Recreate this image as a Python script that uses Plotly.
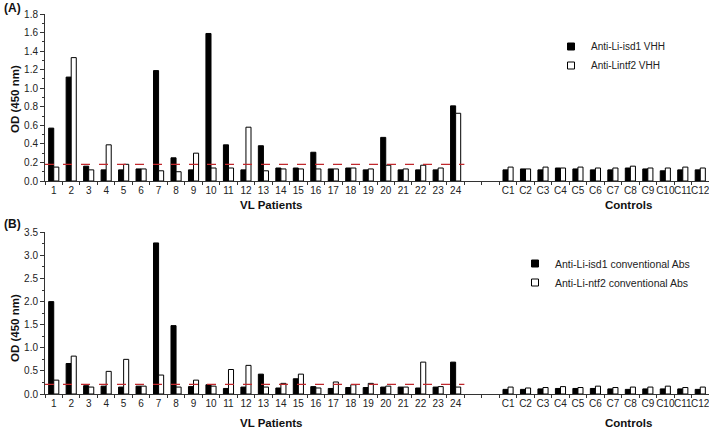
import plotly.graph_objects as go

# ---------------- data ----------------
patients = [str(i) for i in range(1, 25)]
gap_cats = [" ", "  "]
controls = ["C%d" % i for i in range(1, 13)]
categories = patients + gap_cats + controls

# Panel A (VHH)
vhh_isd1_pat = [0.57, 1.12, 0.16, 0.12, 0.12, 0.13, 1.19, 0.25, 0.12, 1.59, 0.39, 0.12,
                0.38, 0.14, 0.14, 0.31, 0.13, 0.14, 0.12, 0.47, 0.12, 0.12, 0.12, 0.81]
vhh_ntf2_pat = [0.15, 1.33, 0.12, 0.39, 0.18, 0.13, 0.11, 0.10, 0.30, 0.14, 0.14, 0.58,
                0.11, 0.13, 0.13, 0.13, 0.13, 0.14, 0.13, 0.17, 0.13, 0.17, 0.14, 0.73]
vhh_isd1_ctl = [0.12, 0.13, 0.12, 0.14, 0.13, 0.12, 0.12, 0.14, 0.13, 0.11, 0.12, 0.12]
vhh_ntf2_ctl = [0.15, 0.13, 0.15, 0.14, 0.15, 0.14, 0.14, 0.16, 0.14, 0.14, 0.15, 0.14]
cutoff_a = 0.18

# Panel B (conventional Abs)
abs_isd1_pat = [2.00, 0.66, 0.18, 0.17, 0.15, 0.17, 3.27, 1.48, 0.16, 0.20, 0.12, 0.15,
                0.43, 0.13, 0.33, 0.16, 0.12, 0.14, 0.14, 0.15, 0.15, 0.13, 0.15, 0.69]
abs_ntf2_pat = [0.30, 0.82, 0.15, 0.49, 0.75, 0.17, 0.41, 0.15, 0.30, 0.17, 0.53, 0.62,
                0.15, 0.23, 0.43, 0.13, 0.26, 0.20, 0.23, 0.17, 0.15, 0.69, 0.16, 0.15]
abs_isd1_ctl = [0.10, 0.10, 0.11, 0.12, 0.12, 0.12, 0.11, 0.10, 0.11, 0.11, 0.11, 0.10]
abs_ntf2_ctl = [0.15, 0.13, 0.14, 0.16, 0.14, 0.17, 0.14, 0.15, 0.15, 0.17, 0.14, 0.15]
cutoff_b = 0.21

name_a1 = "Anti-Li-isd1 VHH"
name_a2 = "Anti-Lintf2 VHH"
name_b1 = "Anti-Li-isd1 conventional Abs"
name_b2 = "Anti-Li-ntf2 conventional Abs"

yticks_a = [0.0, 0.2, 0.4, 0.6, 0.8, 1.0, 1.2, 1.4, 1.6, 1.8]
yticks_b = [0.0, 0.5, 1.0, 1.5, 2.0, 2.5, 3.0, 3.5]

# ---------------- figure ----------------
W, H = 709, 432
ML, MR, MT, MB = 45, 0, 14, 38
PW, PH = W - ML - MR, H - MT - MB


def px_x(px):
    return (px - ML) / PW


def px_y(py):
    return (H - MB - py) / PH


def full(pat, ctl):
    return pat + [None, None] + ctl


fig = go.Figure()
AXC = "#333333"
BLACK = "#000000"

fig.add_trace(go.Bar(x=categories, y=full(vhh_isd1_pat, vhh_isd1_ctl), name=name_a1,
                     marker=dict(color=BLACK, line=dict(color=BLACK, width=1)),
                     xaxis="x", yaxis="y", showlegend=False))
fig.add_trace(go.Bar(x=categories, y=full(vhh_ntf2_pat, vhh_ntf2_ctl), name=name_a2,
                     marker=dict(color="white", line=dict(color=BLACK, width=1)),
                     xaxis="x", yaxis="y", showlegend=False))
fig.add_trace(go.Bar(x=categories, y=full(abs_isd1_pat, abs_isd1_ctl), name=name_b1,
                     marker=dict(color=BLACK, line=dict(color=BLACK, width=1)),
                     xaxis="x2", yaxis="y2", showlegend=False))
fig.add_trace(go.Bar(x=categories, y=full(abs_ntf2_pat, abs_ntf2_ctl), name=name_b2,
                     marker=dict(color="white", line=dict(color=BLACK, width=1)),
                     xaxis="x2", yaxis="y2", showlegend=False))

# legend entries (small square symbols)
for nm, fc, xa, ya, lg in [(name_a1, BLACK, "x", "y", "legend"),
                           (name_a2, "white", "x", "y", "legend"),
                           (name_b1, BLACK, "x2", "y2", "legend2"),
                           (name_b2, "white", "x2", "y2", "legend2")]:
    fig.add_trace(go.Scatter(x=[None], y=[None], mode="markers", name=nm,
                             marker=dict(symbol="square", size=7, color=fc,
                                         line=dict(color=BLACK, width=1)),
                             xaxis=xa, yaxis=ya, legend=lg, showlegend=True))

# cut-off lines
for ref_x, ref_y, val in [("x", "y", cutoff_a), ("x2", "y2", cutoff_b)]:
    fig.add_shape(type="line", xref=ref_x, yref=ref_y, x0=-0.5, x1=len(patients) - 0.5,
                  y0=val, y1=val, line=dict(color="#c0282d", width=1.3, dash="dash"))

xaxis_common = dict(type="category", categoryorder="array", categoryarray=categories,
                    showline=True, linecolor=AXC, linewidth=1, ticks="outside",
                    ticklen=3, tickcolor=AXC, tickson="boundaries",
                    tickfont=dict(family="Liberation Sans, Arial", size=10, color="#222"),
                    showgrid=False, zeroline=False, range=[-0.5, len(categories) - 0.5],
                    tickangle=0, fixedrange=True)
yaxis_common = dict(showline=True, linecolor=AXC, linewidth=1, ticks="outside",
                    ticklen=4, tickcolor=AXC, showgrid=False, zeroline=False,
                    tickformat=".1f",
                    tickfont=dict(family="Liberation Sans, Arial", size=10, color="#222"))

fig.update_layout(
    width=W, height=H,
    margin=dict(l=ML, r=MR, t=MT, b=MB),
    paper_bgcolor="white", plot_bgcolor="white",
    barmode="group", bargap=0.42, bargroupgap=0,
    font=dict(family="Liberation Sans, Arial", color="#222"),
    xaxis=dict(xaxis_common, anchor="y"),
    xaxis2=dict(xaxis_common, anchor="y2"),
    yaxis=dict(yaxis_common, domain=[px_y(181), 1.0], range=[0, 1.8], tickvals=yticks_a,
               anchor="x", minor=dict(dtick=0.1, ticks="outside", ticklen=2, tickcolor=AXC)),
    yaxis2=dict(yaxis_common, domain=[0, px_y(232.3)], range=[0, 3.5], tickvals=yticks_b,
                anchor="x2", minor=dict(dtick=0.25, ticks="outside", ticklen=2, tickcolor=AXC)),
    legend=dict(x=px_x(551), y=px_y(32), xanchor="left", yanchor="top",
                bgcolor="rgba(0,0,0,0)", borderwidth=0, tracegroupgap=0,
                font=dict(family="Liberation Sans, Arial", size=10, color="#222")),
    legend2=dict(x=px_x(515), y=px_y(249), xanchor="left", yanchor="top",
                 bgcolor="rgba(0,0,0,0)", borderwidth=0, tracegroupgap=0,
                 font=dict(family="Liberation Sans, Arial", size=10.5, color="#222")),
)

bold = dict(family="Liberation Sans, Arial", color="#111")
ann = [
    dict(text="<b>(A)</b>", x=px_x(2), y=px_y(8), xanchor="left", yanchor="middle",
         font=dict(bold, size=12)),
    dict(text="<b>(B)</b>", x=px_x(2), y=px_y(224), xanchor="left", yanchor="middle",
         font=dict(bold, size=12)),
    dict(text="<b>OD (450 nm)</b>", x=px_x(15), y=px_y(99), textangle=-90,
         xanchor="center", yanchor="middle", font=dict(bold, size=11.5)),
    dict(text="<b>OD (450 nm)</b>", x=px_x(15), y=px_y(328), textangle=-90,
         xanchor="center", yanchor="middle", font=dict(bold, size=11.5)),
    dict(text="<b>VL Patients</b>", x=px_x(271), y=px_y(205), xanchor="center",
         yanchor="middle", font=dict(bold, size=11.5)),
    dict(text="<b>Controls</b>", x=px_x(628), y=px_y(205), xanchor="center",
         yanchor="middle", font=dict(bold, size=11.5)),
    dict(text="<b>VL Patients</b>", x=px_x(271), y=px_y(423), xanchor="center",
         yanchor="middle", font=dict(bold, size=11.5)),
    dict(text="<b>Controls</b>", x=px_x(628), y=px_y(423), xanchor="center",
         yanchor="middle", font=dict(bold, size=11.5)),
]
for a in ann:
    a.update(xref="paper", yref="paper", showarrow=False)
fig.update_layout(annotations=ann)

fig.write_html("out.html",
               config={"displayModeBar": False},
               post_script="document.body.style.margin='0px';"
                           "document.body.style.overflow='hidden';")
